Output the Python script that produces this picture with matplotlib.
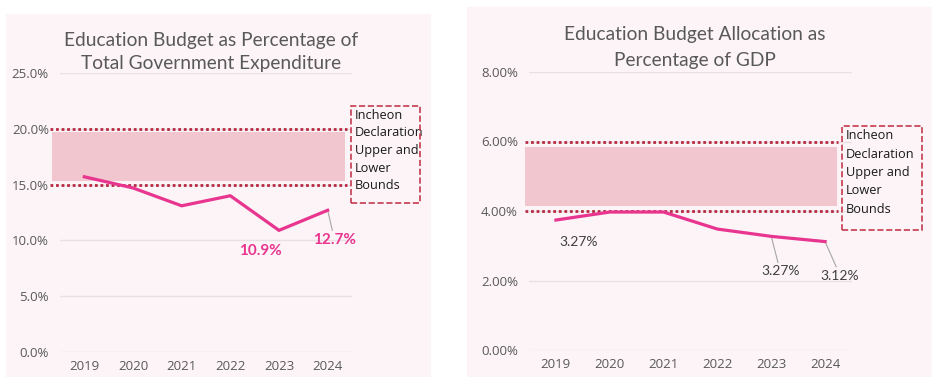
import matplotlib.pyplot as plt
from matplotlib.patches import Rectangle
from matplotlib.ticker import FuncFormatter

years = ["2019", "2020", "2021", "2022", "2023", "2024"]

# share of total government expenditure (%)
exp_share = [15.7, 14.7, 13.1, 14.0, 10.9, 12.7]
exp_bounds = [15.0, 20.0]

# share of GDP (%)
gdp_share = [3.74, 3.97, 3.97, 3.48, 3.27, 3.12]
gdp_bounds = [4.0, 6.0]

PANEL_BG = "#FCF4F6"
LINE = "#E8358F"
BOUND = "#B52A42"
BAND = "#F2C6CE"
GRID = "#E8E0E2"
TXT = "#595959"
FONT = ["Lato", "DejaVu Sans"]

W, H = 932, 377
fig = plt.figure(figsize=(W / 100, H / 100), dpi=100)
fig.patch.set_facecolor("white")


def px_rect(x0, y0, x1, y1):
    # figure-fraction rectangle from pixel coords (origin top-left)
    return [x0 / W, 1 - y1 / H, (x1 - x0) / W, (y1 - y0) / H]


def panel(bg_box, ax_box, title, title_y, title_gap, values, bounds, ymax,
          ystep, fmt, band_pad, dot_x, band_x, legend_box, legend_gap):
    fig.patches.append(Rectangle((bg_box[0], bg_box[1]), bg_box[2], bg_box[3],
                                 transform=fig.transFigure, color=PANEL_BG,
                                 zorder=-5))
    ax = fig.add_axes(ax_box)
    ax.set_facecolor("none")
    x = range(len(years))
    ax.plot(x, values, color=LINE, lw=2.3, solid_joinstyle="miter", zorder=4)
    ax.set_xlim(-0.5, len(years) - 0.5)
    ax.set_ylim(0, ymax)
    ax.set_yticks([i * ystep for i in range(int(round(ymax / ystep)) + 1)])
    ax.yaxis.set_major_formatter(FuncFormatter(lambda v, p: fmt.format(v)))
    ax.set_xticks(list(x))
    ax.set_xticklabels(years)
    ax.grid(axis="y", color=GRID, lw=1)
    ax.set_axisbelow(True)
    for s in ax.spines.values():
        s.set_visible(False)
    ax.tick_params(length=0, colors=TXT, labelsize=9.5)
    ax.tick_params(axis="x", pad=6, labelsize=9.5)
    ax.tick_params(axis="y", pad=8)
    for lab in ax.get_xticklabels() + ax.get_yticklabels():
        lab.set_family(["Open Sans", "DejaVu Sans"])

    tr = ax.get_yaxis_transform()
    lo, hi = bounds
    ax.add_patch(Rectangle((band_x[0], lo + band_pad), band_x[1] - band_x[0],
                           hi - lo - 2 * band_pad, transform=tr, color=BAND,
                           lw=0, clip_on=False, zorder=1))
    for b in bounds:
        ax.plot(dot_x, [b, b], transform=tr, color=BOUND, lw=2,
                ls=(0, (1, 1)), clip_on=False, zorder=3)

    fig.text(ax_box[0] + ax_box[2] / 2 + 0.005, title_y, title, ha="center",
             va="center", fontsize=13.8, color=TXT, family=FONT,
             linespacing=title_gap)

    lx0, ly0, lx1, ly1 = legend_box
    fig.patches.append(Rectangle(((lx0) / W, 1 - ly1 / H), (lx1 - lx0) / W,
                                 (ly1 - ly0) / H, transform=fig.transFigure,
                                 fill=False, ec="#C43A52", lw=1.2, ls="--",
                                 zorder=5))
    fig.text((lx0 + 4) / W, 1 - (ly0 + 3) / H,
             "Incheon\nDeclaration\nUpper and\nLower\nBounds",
             ha="left", va="top", fontsize=9.2, color="#1A1A1A",
             family=["Open Sans", "DejaVu Sans"], linespacing=legend_gap)
    return ax


ax1 = panel(px_rect(6, 14, 430, 377), px_rect(60, 73, 352, 352),
            "Education Budget as Percentage of\nTotal Government Expenditure",
            1 - 52 / H, 1.45, exp_share, exp_bounds, 25, 5, "{:.1f}%", 0.3,
            [-0.034, 0.983], [-0.027, 0.976], (351, 106, 420, 203), 1.45)

ax2 = panel(px_rect(467, 7, 932, 377), px_rect(529, 72, 852, 350),
            "Education Budget Allocation as\nPercentage of GDP",
            1 - 47.5 / H, 1.65, gdp_share, gdp_bounds, 8, 2, "{:.2f}%", 0.15,
            [-0.012, 0.957], [-0.012, 0.954], (842, 126, 922, 230), 1.55)

lead = dict(arrowstyle="-", color="#A6A6A6", lw=0.8, shrinkA=0, shrinkB=0)

# left panel value labels
ax1.annotate(f"{exp_share[4]:.1f}%", (4, exp_share[4]), xytext=(-19, -21),
             textcoords="offset pixels", ha="center", va="center",
             fontsize=11, fontweight="bold", color=LINE, family=FONT)
ax1.annotate(f"{exp_share[5]:.1f}%", (5, exp_share[5]), xytext=(7, -30),
             textcoords="offset pixels", ha="center", va="center",
             fontsize=11, fontweight="bold", color=LINE, family=FONT,
             arrowprops=lead)

# right panel value labels
lab_kw = dict(textcoords="offset pixels", ha="center", va="center",
              fontsize=10, color="#404040", family=FONT)
ax2.annotate("3.27%", (0, gdp_share[0]), xytext=(23, -22), **lab_kw)
ax2.annotate(f"{gdp_share[4]:.2f}%", (4, gdp_share[4]), xytext=(9, -35),
             arrowprops=lead, **lab_kw)
ax2.annotate(f"{gdp_share[5]:.2f}%", (5, gdp_share[5]), xytext=(15, -34),
             arrowprops=lead, **lab_kw)

fig.savefig("out.png", dpi=100, facecolor=fig.get_facecolor())
